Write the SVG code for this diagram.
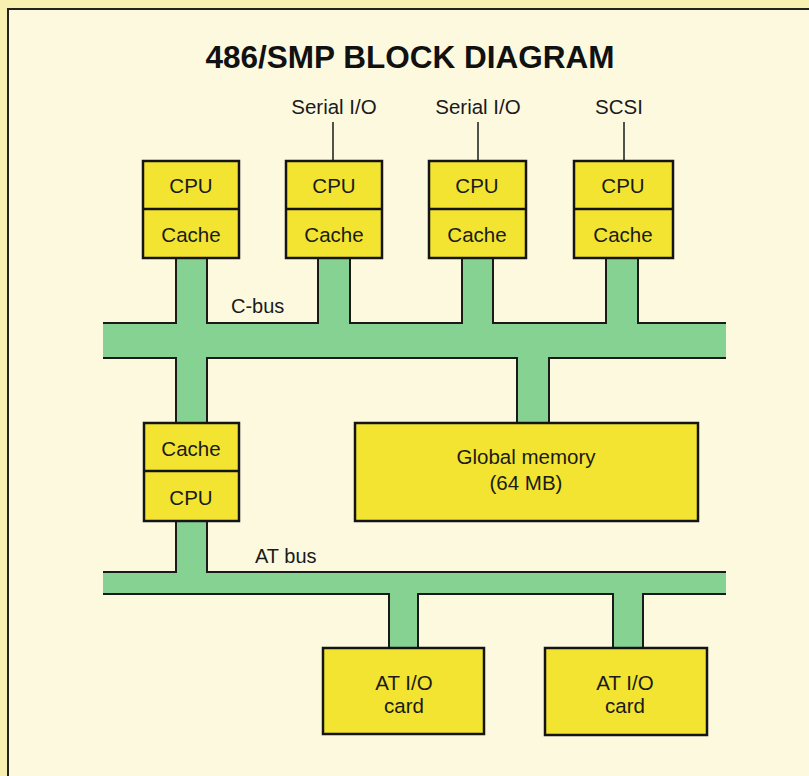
<svg xmlns="http://www.w3.org/2000/svg" width="809" height="776" viewBox="0 0 809 776">
  <style>
    .box { fill: #f2e430; stroke: #141414; stroke-width: 2.5; }
    .div { stroke: #141414; stroke-width: 2.5; fill: none; }
    .bus { fill: #86d293; stroke: none; }
    .edge { fill: none; stroke: #1a1a1a; stroke-width: 2; }
    .wire { fill: none; stroke: #1a1a1a; stroke-width: 1.5; }
    .t { font-family: "Liberation Sans", Arial, sans-serif; font-size: 20.5px; fill: #1a1a1a; text-anchor: middle; }
    .lbl { font-family: "Liberation Sans", Arial, sans-serif; font-size: 20px; fill: #1a1a1a; }
    .title { font-family: "Liberation Sans", Arial, sans-serif; font-size: 31.5px; font-weight: bold; fill: #111; text-anchor: middle; }
  </style>
  <rect x="0" y="0" width="809" height="776" fill="#f7f0b0"/>
  <rect x="8" y="9" width="810" height="780" fill="#fcf9df" stroke="#222" stroke-width="2"/>

  <text class="title" x="410" y="68">486/SMP BLOCK DIAGRAM</text>

  <g id="connectors">
    <path class="bus" d="M103,323 H176 V258 H207 V323 H318 V258 H350 V323 H462 V258 H493 V323 H606 V258 H638 V323 H726 V358 H549 V423 H517 V358 H207 V423 H176 V358 H103 Z"/>
    <path class="edge" d="M103,323 H176 V258 M207,258 V323 H318 V258 M350,258 V323 H462 V258 M493,258 V323 H606 V258 M638,258 V323 H726"/>
    <path class="edge" d="M103,358 H176 V423 M207,423 V358 H517 V423 M549,423 V358 H726"/>
    <path class="bus" d="M103,572 H176 V521 H207 V572 H726 V594 H643 V648 H613 V594 H418 V648 H389 V594 H103 Z"/>
    <path class="edge" d="M103,572 H176 V521 M207,521 V572 H726"/>
    <path class="edge" d="M103,594 H389 V648 M418,648 V594 H613 V648 M643,648 V594 H726"/>
    <line class="wire" x1="333" y1="122" x2="333" y2="161"/>
    <line class="wire" x1="478" y1="122" x2="478" y2="161"/>
    <line class="wire" x1="624" y1="122" x2="624" y2="161"/>
  </g>

  <text class="lbl" x="231" y="313">C-bus</text>
  <text class="lbl" x="255" y="563">AT bus</text>
  <text class="t" x="334" y="114">Serial I/O</text>
  <text class="t" x="478" y="114">Serial I/O</text>
  <text class="t" x="619" y="114">SCSI</text>

  <g id="cpu1">
    <rect class="box" x="143" y="161" width="96" height="97"/>
    <line class="div" x1="143" y1="209" x2="239" y2="209"/>
    <text class="t" x="191" y="193">CPU</text>
    <text class="t" x="191" y="242">Cache</text>
  </g>
  <g id="cpu2">
    <rect class="box" x="286" y="161" width="96" height="97"/>
    <line class="div" x1="286" y1="209" x2="382" y2="209"/>
    <text class="t" x="334" y="193">CPU</text>
    <text class="t" x="334" y="242">Cache</text>
  </g>
  <g id="cpu3">
    <rect class="box" x="429" y="161" width="97" height="97"/>
    <line class="div" x1="429" y1="209" x2="526" y2="209"/>
    <text class="t" x="477" y="193">CPU</text>
    <text class="t" x="477" y="242">Cache</text>
  </g>
  <g id="cpu4">
    <rect class="box" x="574" y="161" width="99" height="97"/>
    <line class="div" x1="574" y1="209" x2="673" y2="209"/>
    <text class="t" x="623" y="193">CPU</text>
    <text class="t" x="623" y="242">Cache</text>
  </g>
  <g id="cpu5">
    <rect class="box" x="144" y="423" width="95" height="98"/>
    <line class="div" x1="144" y1="471" x2="239" y2="471"/>
    <text class="t" x="191" y="456">Cache</text>
    <text class="t" x="191" y="505">CPU</text>
  </g>
  <g id="global-memory">
    <rect class="box" x="355" y="423" width="343" height="98"/>
    <text class="t" x="526" y="464">Global memory</text>
    <text class="t" x="526" y="490">(64 MB)</text>
  </g>
  <g id="at-io-1">
    <rect class="box" x="323" y="648" width="161" height="86"/>
    <text class="t" x="404" y="690">AT I/O</text>
    <text class="t" x="404" y="713">card</text>
  </g>
  <g id="at-io-2">
    <rect class="box" x="545" y="648" width="162" height="87"/>
    <text class="t" x="625" y="690">AT I/O</text>
    <text class="t" x="625" y="713">card</text>
  </g>
</svg>
